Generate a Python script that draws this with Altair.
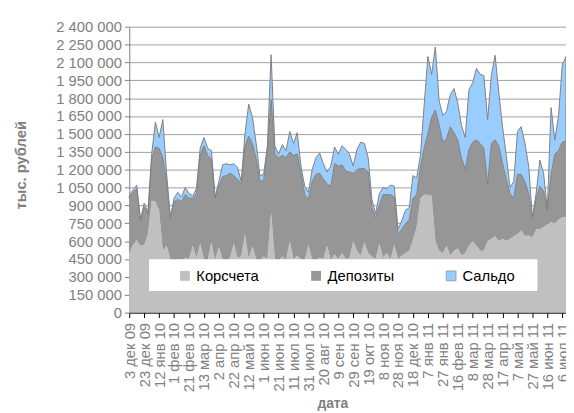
import altair as alt
import pandas as pd

# ---- data (тыс. рублей), one value every 5 days starting 3 Dec 2009 ----
series = ["Корсчета", "Депозиты", "Сальдо"]
colors = ["#C0C0C0", "#969696", "#99CCFF"]
start_date = "2009-12-03"
end_date = "2011-07-11"

korscheta = [
    500, 570, 610, 560, 570, 660, 940, 930, 860, 520,
    560, 450, 440, 450, 430, 460, 450, 560, 460, 580,
    450, 440, 590, 440, 550, 450, 440, 460, 580, 460,
    470, 660, 450, 560, 450, 440, 470, 450, 840, 450,
    440, 470, 440, 600, 450, 480, 450, 440, 570, 450,
    440, 460, 450, 560, 440, 490, 450, 500, 450, 460,
    600, 520, 480, 590, 500, 470, 450, 580, 460, 500,
    450, 570, 450, 480, 500, 520, 610, 720, 960, 990,
    990, 980, 600, 520, 500, 560, 480, 520, 540, 480,
    500, 560, 600, 560, 520, 520, 600, 620, 640, 600,
    620, 600, 620, 640, 660, 690, 640, 650, 630, 700,
    700, 720, 740, 760, 750, 780, 800, 800,
]
deposity = [
    460, 440, 430, 210, 320, 170, 350, 460, 520, 780,
    540, 340, 490, 500, 500, 530, 510, 400, 540, 740,
    950, 880, 700, 520, 510, 690, 710, 710, 570, 660,
    610, 740, 1030, 860, 840, 660, 640, 910, 950, 880,
    860, 850, 860, 750, 870, 850, 720, 550, 380, 650,
    720, 710, 670, 520, 620, 760, 780, 740, 740, 720,
    570, 680, 730, 620, 680, 410, 350, 320, 530, 490,
    540, 400, 210, 220, 245, 260, 350, 270, 260, 390,
    510, 660, 1100, 1060, 930, 900, 1080, 990, 910, 820,
    700, 810, 830, 890, 900, 860, 480, 800, 810, 800,
    630, 520, 380, 320, 500, 470, 460, 350, 160, 260,
    360, 300, 120, 400, 580, 580, 630, 640,
]
saldo = [
    20, 20, 30, 10, 30, 10, 40, 210, 90, 320,
    70, 10, 30, 60, 40, 60, 40, 20, 40, 60,
    70, 60, 70, 10, 40, 100, 100, 70, 100, 100,
    20, 100, 270, 220, 130, 50, 50, 40, 375, 70,
    30, 90, 60, 170, 100, 180, 60, 70, 60, 100,
    140, 170, 130, 100, 170, 140, 100, 160, 180, 150,
    60, 170, 220, 210, 120, 70, 30, 100, 60, 50,
    80, 90, 40, 70, 115, 100, 190, 140, 100, 360,
    650, 360, 530, 200, 225, 230, 270, 370, 310, 270,
    270, 500, 500, 600, 580, 610, 540, 570, 710, 450,
    310, 200, 50, 140, 360, 400, 320, 230, 10, 40,
    220, 150, 10, 560, 120, 290, 650, 710,
]

tick_dates = [
    "2009-12-03", "2009-12-23", "2010-01-12", "2010-02-01", "2010-02-21",
    "2010-03-13", "2010-04-02", "2010-04-22", "2010-05-12", "2010-06-01",
    "2010-06-21", "2010-07-11", "2010-07-31", "2010-08-20", "2010-09-09",
    "2010-09-29", "2010-10-19", "2010-11-08", "2010-11-28", "2010-12-18",
    "2011-01-07", "2011-01-27", "2011-02-16", "2011-03-08", "2011-03-28",
    "2011-04-17", "2011-05-07", "2011-05-27", "2011-06-16", "2011-07-06",
]
months_ru = ["янв", "фев", "мар", "апр", "май", "июн",
             "июл", "авг", "сен", "окт", "ноя", "дек"]
y_ticks = [0, 150000, 300000, 450000, 600000, 750000, 900000, 1050000,
           1200000, 1350000, 1500000, 1650000, 1800000, 1950000, 2100000,
           2250000, 2400000]

# ---- table ----
dates = pd.date_range(start_date, periods=len(korscheta), freq="5D").strftime("%Y-%m-%d")
rows = []
for i, dt in enumerate(dates):
    for k, (name, vals) in enumerate(zip(series, [korscheta, deposity, saldo])):
        rows.append({"date": dt, "series": name, "value": vals[i] * 1000, "ord": k})
df = pd.DataFrame(rows)


def ms(s):
    return int(pd.Timestamp(s, tz="UTC").value // 10**6)


tick_ms = [ms(t) for t in tick_dates]
months_js = "[" + ",".join(f"'{m}'" for m in months_ru) + "]"
x_label_expr = (f"utcdate(datum.value) + ' ' + {months_js}[utcmonth(datum.value)]"
                f" + ' ' + utcFormat(datum.value, '%y')")
y_label_expr = "replace(format(datum.value, ',.0f'), regexp(',', 'g'), ' ')"

FONT = "Liberation Sans"
GREY = "#808080"

area = alt.Chart(df).mark_area(strokeWidth=1, interpolate="linear").encode(
    x=alt.X(
        "date:T",
        scale=alt.Scale(type="utc", domain=[ms(start_date), ms(end_date)]),
        title="дата",
        axis=alt.Axis(
            values=tick_ms, labelExpr=x_label_expr, labelAngle=270,
            labelAlign="right", labelBaseline="middle", labelFontSize=15,
            labelFont=FONT, labelColor=GREY, labelOverlap=False,
            labelFlush=False, labelPadding=5, tickSize=5, tickColor="#000000",
            domainColor="#000000", grid=False, titleFont=FONT, titleFontSize=14,
            titleFontWeight="bold", titleColor=GREY, titleX=206, titleY=96,
            titleAlign="center", titleBaseline="alphabetic",
        ),
    ),
    y=alt.Y(
        "value:Q", stack="zero",
        scale=alt.Scale(domain=[0, 2400000], nice=False),
        title="тыс. рублей",
        axis=alt.Axis(
            values=y_ticks, labelExpr=y_label_expr, labelFontSize=15,
            labelFont=FONT, labelColor=GREY, labelPadding=3, tickSize=5,
            tickColor=GREY, domainColor=GREY, grid=True, gridColor="#A0A0A0",
            gridWidth=1, titleFont=FONT, titleFontSize=15, titleFontWeight="bold",
            titleColor=GREY, titleX=-110, titleY=140, titleAngle=270,
            titleAlign="center", titleBaseline="middle",
        ),
    ),
    fill=alt.Fill(
        "series:N",
        scale=alt.Scale(domain=series, range=colors),
        legend=alt.Legend(
            title=None, orient="none", legendX=49, legendY=245,
            direction="horizontal", columns=3, columnPadding=50,
            symbolType="square", symbolSize=100, symbolStrokeColor=GREY,
            symbolStrokeWidth=0.6, labelFontSize=15, labelFont=FONT,
            labelColor="#000000", labelOffset=4, padding=0,
        ),
    ),
    stroke=alt.Stroke(
        "series:N",
        scale=alt.Scale(domain=series, range=["transparent", "transparent", GREY]),
        legend=None,
    ),
    order=alt.Order("ord:Q"),
)

box = alt.Chart(pd.DataFrame({"b": [0]})).mark_rect(color="white").encode(
    x=alt.value(20), x2=alt.value(414), y=alt.value(236), y2=alt.value(268)
)

chart = alt.layer(area, box).properties(
    width=443, height=290,
    padding={"left": 123, "top": 16, "right": 0, "bottom": 105},
    autosize=alt.AutoSizeParams(type="none"),
).configure(font=FONT).configure_view(strokeWidth=0)

chart.save("out.html", embed_options={"renderer": "svg", "actions": False})
